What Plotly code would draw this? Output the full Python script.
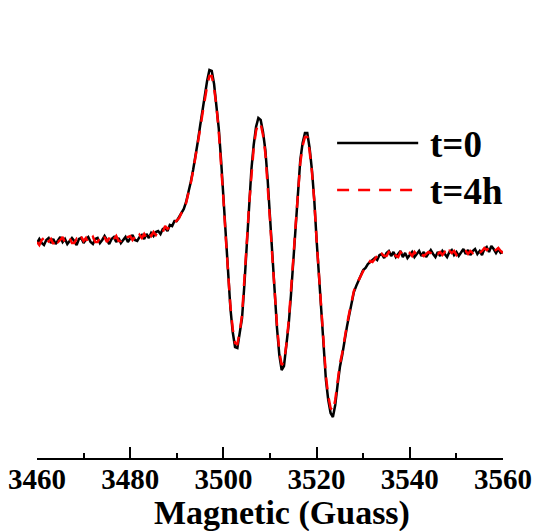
import numpy as np
import plotly.graph_objects as go

# Magnetic field sampling (Gauss), 0.5 G steps
field = np.arange(3460.0, 3560.0 + 0.25, 0.5)

# EPR signal at t=0 (arbitrary units)
signal_t0 = [
    7, 11, 7, 5, 10, 12, 7, 11, 6, 9, 13, 8, 11, 6, 9, 12, 9, 5, 11, 12,
    7, 11, 13, 8, 6, 11, 12, 7, 10, 14,
    10, 6, 11, 13, 8, 12, 7, 10, 13, 8,
    12, 15, 10, 9, 13, 15, 11, 16, 12, 17,
    14, 18, 19, 16, 21, 22, 19, 25, 24, 29,
    29, 33, 36, 41, 48, 57, 68, 80, 93, 108,
    124, 140, 155, 169, 180, 179, 166, 147, 122, 90,
    52, 13, -25, -58, -82, -97, -98, -85, -68, -35,
    5, 45, 80, 105, 123, 132, 130, 118, 100, 70,
    30, -8, -45, -78, -105, -120, -116, -98, -75, -45,
    -10, 25, 60, 90, 107, 117, 117, 102, 80, 50,
    10, -28, -55, -95, -130, -150, -163, -167, -155, -135,
    -117, -105, -90, -77, -65, -52, -42, -36, -31, -26,
    -20, -18, -14, -12, -10, -8, -10, -5, -4, -8,
    -3, -1, -6, -2, -7, -4, -1, -7, -3, -8,
    -5, -2, -7, -4, -1, -6, -2, -7, -4, 0,
    -4, -7, -2, -6, -1, -4, -7, -2, 0, -5,
    -2, -6, -2, 1, -4, 0, -5, -1, 1, -4,
    -1, -5, 1, 3, -2, 4, 1, -3, 1, -3,
    -2,
]

# EPR signal at t=4h (arbitrary units)
signal_t4h = [
    8, 5, 10, 12, 6, 9, 11, 6, 12, 8, 10, 13, 7, 10, 12, 7, 7, 11, 8, 13,
    9, 12, 7, 10, 13, 8, 8, 12, 9, 13,
    8, 12, 7, 11, 14, 9, 9, 12, 10, 13,
    14, 10, 13, 10, 15, 12, 16, 12, 17, 14,
    18, 15, 19, 20, 18, 24, 21, 23, 27, 27,
    30, 32, 37, 40, 47, 56, 67, 79, 92, 106,
    121, 136, 151, 164, 174, 174, 162, 144, 119, 88,
    51, 13, -24, -56, -79, -93, -94, -82, -65, -33,
    6, 44, 78, 102, 119, 127, 126, 115, 97, 68,
    30, -7, -43, -75, -101, -115, -112, -95, -72, -43,
    -9, 25, 59, 87, 104, 113, 113, 99, 78, 49,
    10, -27, -53, -92, -126, -146, -158, -161, -150, -131,
    -114, -103, -88, -75, -63, -51, -41, -35, -30, -25,
    -21, -17, -15, -11, -12, -9, -6, -9, -4, -6,
    -6, -2, -4, -1, -6, -7, -2, -4, -6, -6,
    -3, -6, -2, -5, -2, -4, -6, -4, -2, -3,
    -6, -3, -4, -2, -5, -2, -6, -1, -3, -1,
    -5, -2, -2, -1, -1, -4, -1, -3, 0, -2,
    -3, -1, 2, 0, 2, 3, -1, 0, 2, -1,
    -3,
]

series_names = ["t=0", "t=4h"]
tick_vals = [3460, 3480, 3500, 3520, 3540, 3560]
tick_text = ["3460", "3480", "3500", "3520", "3540", "3560"]
x_title = "Magnetic (Guass)"

FONT = "Liberation Serif, Times New Roman, serif"

fig = go.Figure()
fig.add_trace(go.Scatter(x=field, y=signal_t0, mode="lines", name=series_names[0],
                         line=dict(color="black", width=2.5), showlegend=False))
fig.add_trace(go.Scatter(x=field, y=signal_t4h, mode="lines", name=series_names[1],
                         line=dict(color="#ff0000", width=2.5, dash="12px,9px"), showlegend=False))

# manual legend
legend_items = [
    dict(y=0.703, color="black", dash="solid", x1=0.818, text=series_names[0]),
    dict(y=0.598, color="#ff0000", dash="12px,9px", x1=0.807, text=series_names[1]),
]
for it in legend_items:
    fig.add_shape(type="line", xref="paper", yref="paper", x0=0.644, x1=it["x1"],
                  y0=it["y"], y1=it["y"], line=dict(color=it["color"], width=2.5, dash=it["dash"]))
    fig.add_annotation(xref="paper", yref="paper", x=0.838, y=it["y"] - 0.004, xanchor="left",
                       yanchor="middle", text=it["text"], showarrow=False,
                       font=dict(family=FONT, size=37, color="black", weight="bold"))

# axis title (placed as text below the axis)
fig.add_annotation(xref="paper", yref="paper", x=0.526, y=-0.123, xanchor="center",
                   yanchor="middle", text=x_title, showarrow=False,
                   font=dict(family=FONT, size=34, color="black", weight="bold"))

fig.update_layout(
    width=535, height=531,
    margin=dict(l=37, r=32, t=10, b=73),
    paper_bgcolor="white", plot_bgcolor="white",
    xaxis=dict(range=[3460, 3560], showgrid=False, zeroline=False, automargin=False,
               showline=True, linecolor="black", linewidth=2,
               ticks="inside", ticklen=11, tickwidth=2, tickcolor="black",
               tickvals=tick_vals, ticktext=tick_text, ticklabelstandoff=-6,
               tickfont=dict(family=FONT, size=29, color="black", weight="bold"),
               minor=dict(dtick=10, ticks="inside", ticklen=5, tickwidth=2, tickcolor="black")),
    yaxis=dict(range=[-208, 240], visible=False),
)

fig.write_html("out.html", config={"displayModeBar": False},
               post_script="document.body.style.margin='0';document.body.style.padding='0';")
